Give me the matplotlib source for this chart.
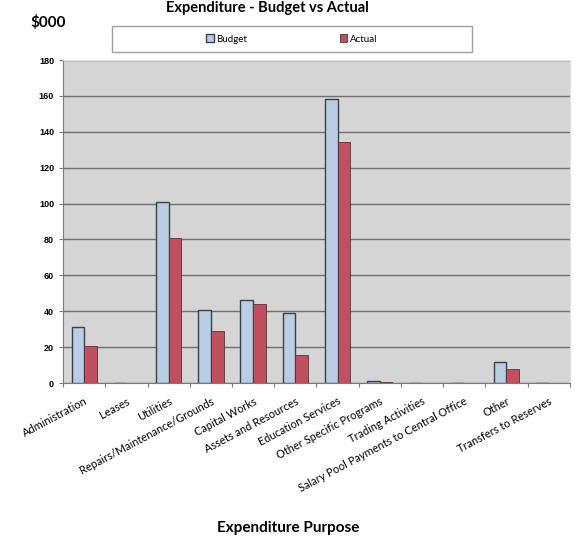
import numpy as np
import matplotlib.pyplot as plt
from matplotlib.patches import Rectangle

categories = ["Administration", "Leases", "Utilities", "Repairs/Maintenance/Grounds",
              "Capital Works", "Assets and Resources", "Education Services",
              "Other Specific Programs", "Trading Activities",
              "Salary Pool Payments to Central Office", "Other", "Transfers to Reserves"]
budget = [31, 0, 101, 40.5, 46.5, 39, 158.5, 1, 0, 0, 11.5, 0]
actual = [20.5, 0, 81, 29, 44, 15.5, 134.5, 0.5, 0, 0, 8, 0]

fig = plt.figure(figsize=(5.79, 5.41), dpi=100)
ax = fig.add_axes([0.109, 0.292, 0.875, 0.597])

x = np.arange(len(categories))
w = 0.3
ax.bar(x - w / 2, budget, w, color='#b9cde5', edgecolor='#3a3f4a', linewidth=1.0, label='Budget', zorder=3)
ax.bar(x + w / 2, actual, w, color='#c0505f', edgecolor='#5a3038', linewidth=0.6, label='Actual', zorder=3)

ax.set_facecolor('#d5d5d5')
ax.set_xlim(-0.5, len(categories) - 0.5)
ax.set_ylim(0, 180)
ax.set_yticks(range(0, 181, 20))
ax.yaxis.grid(True, color='#6e6e6e', linewidth=1.0, zorder=0)
ax.set_axisbelow(True)
for s in ['top', 'right']:
    ax.spines[s].set_color('#e0e0e0')
ax.spines['left'].set_color('#7a7a7a')
ax.spines['bottom'].set_color('#7a7a7a')

ax.set_xticks(np.arange(-0.5, len(categories), 1), minor=False)
ax.set_xticklabels([])
ax.set_xticks(x, minor=True)
ax.set_xticklabels(categories, minor=True, rotation=28, ha='right', rotation_mode='anchor',
                   fontsize=7.9, family='Lato')
ax.tick_params(axis='x', which='minor', length=0, pad=9)
ax.tick_params(axis='x', which='major', length=3, color='#7a7a7a')
ax.tick_params(axis='y', length=3, color='#7a7a7a', labelsize=6.5)
for t in ax.get_yticklabels():
    t.set_fontweight('bold')
    t.set_family('Liberation Sans')

fig.text(0.462, 0.998, "Expenditure - Budget vs Actual", ha='center', va='top',
         fontsize=10.5, fontweight='bold', family='Lato')
fig.text(0.084, 0.973, "$000", ha='center', va='top', fontsize=11, fontweight='bold', family='Lato')
fig.text(0.497, 0.024, "Expenditure Purpose", ha='center', va='center',
         fontsize=11, fontweight='bold', family='Lato')

# legend frame drawn separately so the two entries sit apart like the original
fig.patches.append(Rectangle((0.193, 0.904), 0.622, 0.048, transform=fig.transFigure,
                             facecolor='white', edgecolor='#a0a0a0', linewidth=1.0))
leg = fig.legend(loc='center', bbox_to_anchor=(0.504, 0.928), ncol=2, frameon=False,
                 prop={'family': 'Lato', 'size': 7}, handlelength=0.8, handleheight=0.8,
                 handletextpad=0.3, columnspacing=9.5, borderaxespad=0)

plt.savefig('out.png')
